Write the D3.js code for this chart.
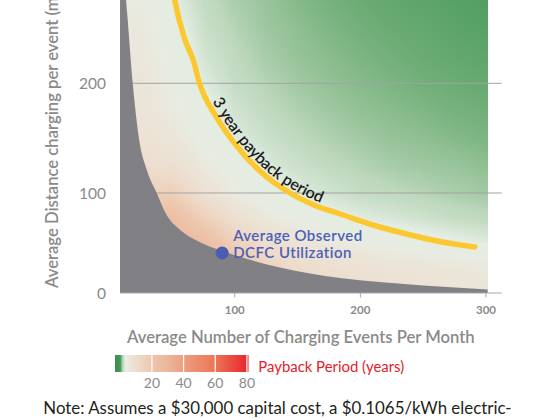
<!DOCTYPE html>
<html><head><meta charset="utf-8">
<script src="https://cdn.jsdelivr.net/npm/d3@7"></script>
<style>
html,body{margin:0;padding:0;background:#fff;}
svg{display:block;font-family:Lato,"Noto Sans",sans-serif;}
</style></head><body>
<svg id="chart" width="548" height="418"></svg>
<script>
// ---------------- data ----------------
const xTicks = [100, 200, 300];
const yTicks = [0, 100, 200];
const legendTicks = [20, 40, 60, 80];

// payback period (years) read from the shading, on a grid
const gridEvents = [0, 25, 50, 75, 100, 125, 150, 175, 200, 225, 250, 275, 300];
const gridDistance = [300, 275, 250, 225, 200, 175, 150, 125, 100, 75, 50, 25, 0];
const paybackGrid = [
  [4, 4.5, 2.9, 1.8, 1.25, 0.95, 0.72, 0.58, 0.45, 0.35, 0.25, 0.18, 0.12],
  [4.5, 5, 3.1, 1.95, 1.4, 1.1, 0.82, 0.65, 0.52, 0.42, 0.33, 0.25, 0.18],
  [5, 5.5, 3.6, 2.2, 1.6, 1.2, 0.95, 0.76, 0.6, 0.5, 0.42, 0.33, 0.25],
  [5.5, 6, 4, 2.5, 1.8, 1.35, 1.05, 0.88, 0.72, 0.6, 0.5, 0.42, 0.35],
  [6, 6.5, 4.5, 2.9, 2, 1.6, 1.25, 1, 0.85, 0.72, 0.6, 0.52, 0.45],
  [6.5, 7, 5, 3.4, 2.4, 1.85, 1.5, 1.22, 1, 0.88, 0.76, 0.65, 0.58],
  [7, 8, 6.5, 4, 2.9, 2.2, 1.8, 1.5, 1.25, 1.05, 0.95, 0.82, 0.72],
  [8, 10, 9, 5.5, 3.6, 2.8, 2.2, 1.85, 1.6, 1.35, 1.2, 1.1, 0.95],
  [12, 16, 16, 8, 4.8, 3.6, 2.9, 2.4, 2, 1.8, 1.6, 1.4, 1.25],
  [16, 22, 25, 16, 9, 5.5, 4.2, 3.4, 2.9, 2.6, 2.3, 2, 1.8],
  [20, 25, 30, 26, 16, 10, 7, 5.5, 4.6, 4, 3.6, 3.2, 2.9],
  [22, 25, 30, 28, 22, 15, 11, 9, 8, 7, 6.5, 6, 5.5],
  [22, 25, 28, 26, 22, 17, 13, 11, 10, 9, 8, 7.5, 7]
];

// boundary of the "no payback" (grey) zone
const grayEvents   = [8.7, 13.5, 18.8, 24, 30, 37.9, 45.8, 56.6, 72, 90, 110, 136, 160, 184, 215, 250, 301.3];
const grayDistance = [330, 276, 200, 148, 121, 100, 78, 63, 51, 42, 34, 25.5, 19.5, 15, 11, 7.5, 3.5];

// 3 year payback curve
const yellowEvents   = [46, 52, 60, 67, 72, 85, 100, 120, 144, 165, 184, 210, 240, 265, 291];
const yellowDistance = [320, 277, 241, 221, 200, 170, 145, 120, 100, 87, 79, 68, 58, 51, 46];

// observed utilisation
const observedEvents = [90];
const observedDistance = [40];
const observedLabel = ["Average Observed", "DCFC Utilization"];

// colour scale of payback years
const paybackStops  = [-3.3, 0, 0.5, 1, 1.7, 3, 4.5, 6, 12, 20, 30, 40, 60, 80, 81];
const paybackColors = ["#3a8d4b", "#44975a", "#6aab73", "#93c196", "#bcd7bb", "#e3ede2", "#e8ece2",
                       "#ebe6da", "#eed9c7", "#edc6ad", "#ecb699", "#eb9f80", "#ec7656", "#e8262c", "#e41e26"];

// ---------------- layout ----------------
const svg = d3.select("#chart");
const x = d3.scaleLinear().domain([0, 300]).range([109.1, 486]);
const y = d3.scaleLinear().domain([0, 100, 200]).range([293, 193, 83.3]);
const eMin = 8.7, eMax = 301.3, dMax = 330, gridEnd = 312.5;
const color = d3.scaleLinear().domain(paybackStops).range(paybackColors).clamp(true);
const grey = "#8a8a8a";

function fit(sel, target) {
  const fs = parseFloat(sel.attr("font-size"));
  const w = sel.node().getComputedTextLength();
  const nf = fs * target / w;
  sel.attr("font-size", nf);
  return nf;
}
function spaceFit(sel, target) {
  const w = sel.node().getComputedTextLength();
  const n = sel.text().length;
  sel.attr("letter-spacing", (target - w) / n);
}

// ---- heatmap ----
const distAsc = gridDistance.slice().reverse();
const gridAsc = paybackGrid.slice().reverse();
function paybackAt(e, d) {
  const ec = Math.max(gridEvents[0], Math.min(e, gridEvents[gridEvents.length - 1]));
  const dc = Math.max(distAsc[0], Math.min(d, distAsc[distAsc.length - 1]));
  let i = Math.min(Math.max(d3.bisectRight(gridEvents, ec) - 1, 0), gridEvents.length - 2);
  let j = Math.min(Math.max(d3.bisectRight(distAsc, dc) - 1, 0), distAsc.length - 2);
  const t = (ec - gridEvents[i]) / (gridEvents[i + 1] - gridEvents[i]);
  const u = (dc - distAsc[j]) / (distAsc[j + 1] - distAsc[j]);
  const a = gridAsc[j][i], b = gridAsc[j][i + 1], c = gridAsc[j + 1][i], dd = gridAsc[j + 1][i + 1];
  return (a * (1 - t) + b * t) * (1 - u) + (c * (1 - t) + dd * t) * u;
}
const px0 = Math.round(x(eMin)), px1 = Math.round(x(eMax));
const py0 = Math.max(0, Math.round(y(dMax))), py1 = Math.round(y(0));
const cw = px1 - px0, ch = py1 - py0;
const canvas = document.createElement("canvas");
canvas.width = cw; canvas.height = ch;
const ctx = canvas.getContext("2d");
const img = ctx.createImageData(cw, ch);
for (let r = 0; r < ch; r++) {
  const d = y.invert(py0 + r + 0.5);
  for (let c = 0; c < cw; c++) {
    const e = x.invert(px0 + c + 0.5);
    const col = d3.rgb(color(paybackAt(e, d)));
    const k = (r * cw + c) * 4;
    img.data[k] = col.r; img.data[k + 1] = col.g; img.data[k + 2] = col.b; img.data[k + 3] = 255;
  }
}
ctx.putImageData(img, 0, 0);
svg.append("image").attr("href", canvas.toDataURL()).attr("x", px0).attr("y", py0)
  .attr("width", cw).attr("height", ch).attr("preserveAspectRatio", "none");

// ---- gridlines ----
svg.append("g").selectAll("line").data(yTicks.filter(t => t > 0)).join("line")
  .attr("x1", x(eMin)).attr("x2", x(gridEnd)).attr("y1", d => y(d)).attr("y2", d => y(d))
  .attr("stroke", "#a3a3a3").attr("stroke-width", 1);

// ---- grey zone ----
svg.append("path").datum(d3.zip(grayEvents, grayDistance))
  .attr("d", d3.area().x(d => x(d[0])).y0(y(0)).y1(d => y(d[1])).curve(d3.curveMonotoneX))
  .attr("fill", "#818185");

// ---- x axis line + ticks ----
svg.append("line").attr("x1", x(eMin)).attr("x2", x(gridEnd)).attr("y1", y(0)).attr("y2", y(0))
  .attr("stroke", "#a8a8a8").attr("stroke-width", 1.2);
svg.append("g").selectAll("line").data(xTicks).join("line")
  .attr("x1", d => x(d)).attr("x2", d => x(d)).attr("y1", y(0)).attr("y2", y(0) + 4.5)
  .attr("stroke", "#a8a8a8").attr("stroke-width", 1);

// ---- 3 year payback line ----
const yPath = svg.append("path").attr("id", "payback3").datum(d3.zip(yellowEvents, yellowDistance))
  .attr("d", d3.line().x(d => x(d[0])).y(d => y(d[1])).curve(d3.curveMonotoneX))
  .attr("fill", "none").attr("stroke", "#fdc82f").attr("stroke-width", 5.5).attr("stroke-linecap", "round");
const pn = yPath.node(), L = pn.getTotalLength();
function lenAtX(px) { let lo = 0, hi = L; for (let k = 0; k < 40; k++) { const m = (lo + hi) / 2; if (pn.getPointAtLength(m).x < px) lo = m; else hi = m; } return lo; }
const s0 = lenAtX(x(79)), s1 = lenAtX(x(167));
const tmp = svg.append("text").attr("font-size", 13).attr("font-weight", 600).text("3 year payback period");
const fsCurve = fit(tmp, s1 - s0); tmp.remove();
svg.append("text").attr("font-size", fsCurve).attr("font-weight", 600).attr("fill", "#1b1b1b").attr("dy", -4.5)
  .append("textPath").attr("href", "#payback3").attr("startOffset", s0).text("3 year payback period");

// ---- observed point ----
svg.append("g").selectAll("circle").data(d3.zip(observedEvents, observedDistance)).join("circle")
  .attr("cx", d => x(d[0])).attr("cy", d => y(d[1])).attr("r", 6.5).attr("fill", "#4a5db5");
const obsLines = svg.append("g").selectAll("text").data(observedLabel).join("text")
  .attr("x", x(observedEvents[0]) + 11).attr("y", (d, i) => 240.7 + i * 17)
  .attr("font-size", 15).attr("font-weight", 600).attr("fill", "#4b5fb6").text(d => d);
const ol = d3.select(obsLines.nodes()[0]);
const ow = ol.node().getComputedTextLength();
obsLines.attr("letter-spacing", (129.4 - ow) / observedLabel[0].length);

// ---- tick labels ----
svg.append("g").selectAll("text").data(xTicks).join("text")
  .attr("x", d => x(d)).attr("y", 313.5).attr("text-anchor", "middle")
  .attr("font-size", 11.5).attr("font-weight", 700).attr("fill", grey).text(d => d);
svg.append("g").selectAll("text").data(yTicks).join("text")
  .attr("x", 106).attr("y", d => y(d) + 5.5).attr("text-anchor", "end")
  .attr("font-size", 15.5).attr("fill", grey).text(d => d);

// ---- axis titles ----
const xt = svg.append("text").attr("x", 127).attr("y", 343.3).attr("font-size", 15).attr("font-weight", 600)
  .attr("fill", grey).text("Average Number of Charging Events Per Month");
const tfs = fit(xt, 348);
svg.append("text").attr("transform", "translate(57.5,288) rotate(-90)").attr("font-size", tfs)
  .attr("font-weight", 600).attr("fill", grey).text("Average Distance charging per event (miles)");

// ---- legend ----
const lx = d3.scaleLinear().domain([-3.3, 81]).range([115, 248.5]);
const grad = svg.append("defs").append("linearGradient").attr("id", "lgrad")
  .attr("x1", 0).attr("x2", 1).attr("y1", 0).attr("y2", 0);
paybackStops.forEach((p, i) => grad.append("stop")
  .attr("offset", (lx(p) - lx(-3.3)) / (lx(81) - lx(-3.3))).attr("stop-color", paybackColors[i]));
svg.append("rect").attr("x", lx(-3.3)).attr("y", 355).attr("width", lx(81) - lx(-3.3)).attr("height", 17)
  .attr("fill", "url(#lgrad)");
svg.append("g").selectAll("line").data(legendTicks).join("line")
  .attr("x1", d => lx(d)).attr("x2", d => lx(d)).attr("y1", 355).attr("y2", 372)
  .attr("stroke", "#fff").attr("stroke-width", 1.2);
svg.append("g").selectAll("text").data(legendTicks).join("text")
  .attr("x", d => lx(d)).attr("y", 387.8).attr("text-anchor", "middle")
  .attr("font-size", 14).attr("fill", grey).text(d => d);
const lt = svg.append("text").attr("x", 258.3).attr("y", 371.7).attr("font-size", 15)
  .attr("fill", "#e5202a").text("Payback Period (years)");
fit(lt, 146);

// ---- note ----
const nt = svg.append("text").attr("x", 43.3).attr("y", 414).attr("font-size", 15)
  .attr("fill", "#231f20").text("Note: Assumes a $30,000 capital cost, a $0.1065/kWh electric-");
fit(nt, 468.4);
</script>
</body></html>
